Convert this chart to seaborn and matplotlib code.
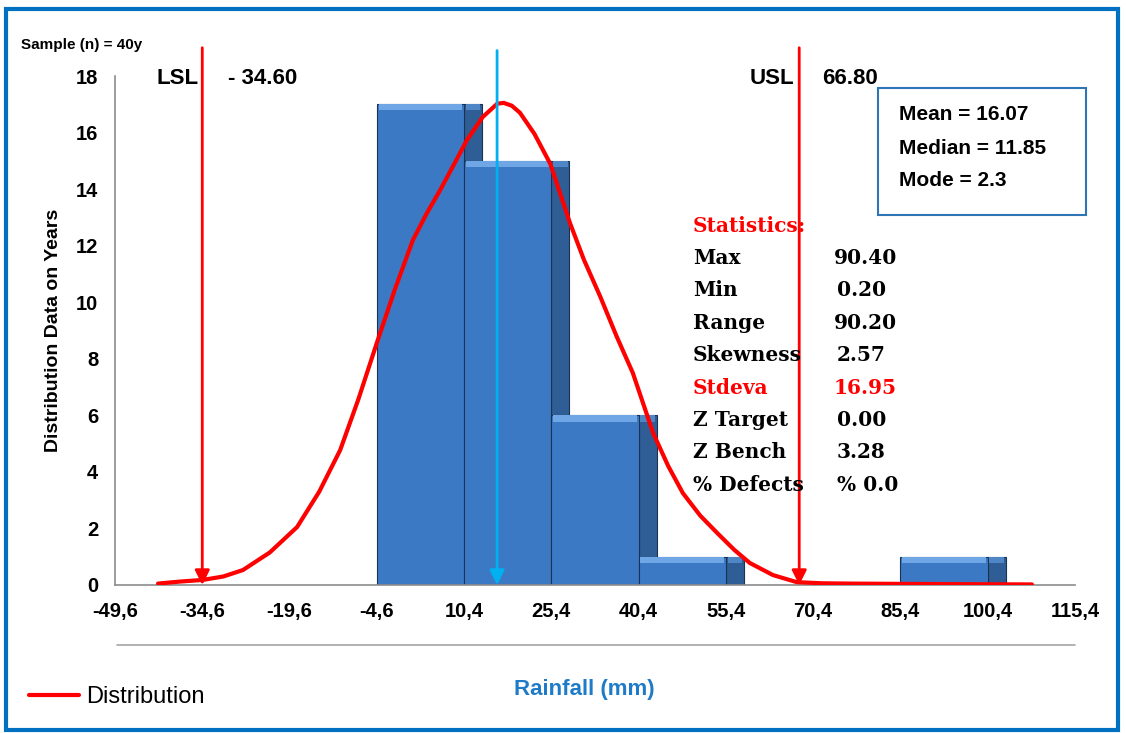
import numpy as np
import pandas as pd
import matplotlib
matplotlib.use("Agg")
import matplotlib.pyplot as plt
from matplotlib.lines import Line2D
from matplotlib.patches import Rectangle
import seaborn as sns

# Data
bin_edges = [-4.6, 10.4, 25.4, 40.4, 55.4, 70.4, 85.4, 100.4]
counts = [17, 15, 6, 1, 0, 0, 1]
xticks = [-49.6, -34.6, -19.6, -4.6, 10.4, 25.4, 40.4, 55.4, 70.4, 85.4, 100.4, 115.4]
yticks = [0, 2, 4, 6, 8, 10, 12, 14, 16, 18]

# distribution curve
curve_x = [-42.2, -38.5, -34.5, -31.0, -27.6, -23.0, -18.3, -14.5, -10.9, -7.8, -4.6, -1.5, 1.6,
           4.0, 6.3, 8.6, 10.9, 13.6, 16.1, 17.2, 18.6, 20.0, 22.5, 25.2, 28.6, 31.0, 33.8, 36.6,
           39.4, 42.9, 45.5, 48.0, 51.0, 53.9, 56.8, 59.5, 63.5, 67.6, 72.0, 76.7, 85.0, 93.9, 108.0]
curve_y = [0.05, 0.12, 0.18, 0.30, 0.53, 1.15, 2.05, 3.30, 4.77, 6.55, 8.56, 10.45, 12.20,
           13.15, 13.97, 14.85, 15.74, 16.55, 17.02, 17.05, 16.95, 16.70, 15.95, 14.90, 12.80, 11.50, 10.20, 8.80,
           7.50, 5.37, 4.20, 3.25, 2.45, 1.84, 1.25, 0.78, 0.35, 0.10, 0.06, 0.05, 0.04, 0.03, 0.02]

lsl, lsl_label = -34.6, "- 34.60"
usl, usl_label = 68.0, "66.80"
mean_val = 16.07

summary_lines = ["Mean = 16.07", "Median = 11.85", "Mode = 2.3"]
stat_names = ["Max", "Min", "Range", "Skewness", "Stdeva", "Z Target", "Z Bench", "% Defects"]
stat_values = ["90.40", "0.20", "90.20", "2.57", "16.95", "0.00", "3.28", "% 0.0"]

W, H = 1126, 733
def px(x, y):
    return x / W, 1 - y / H

sns.set_style("white")
plt.rcParams['font.family'] = ['Liberation Sans', 'DejaVu Sans']
plt.rcParams['text.color'] = 'black'
plt.rcParams['axes.labelcolor'] = 'black'
plt.rcParams['xtick.color'] = 'black'
plt.rcParams['ytick.color'] = 'black'

fig = plt.figure(figsize=(W / 100, H / 100), dpi=100)
ax = fig.add_axes([115 / W, 148 / H, 960 / W, 509 / H])

edges = np.array(bin_edges)
left = edges[:-1]
cnt = np.array(counts)
width = np.diff(edges)
depth = 3.1

# 3D side faces
ax.bar(left + width, cnt, width=depth, align='edge', color='#2F5E96',
       edgecolor='#1B3352', linewidth=0.8, zorder=1)
# front faces through seaborn
df = pd.DataFrame({'rain': left + width / 2, 'n': cnt})
sns.histplot(data=df, x='rain', weights='n', bins=bin_edges, color='#3B79C4',
             alpha=1, edgecolor='#1B3352', linewidth=0.8, ax=ax, zorder=2)
# light top bevel
top_h = np.where(cnt > 0, 0.22, 0)
ax.bar(left + 0.3, top_h, bottom=cnt - top_h, width=width - 0.6, align='edge',
       color='#6EA6E6', linewidth=0, zorder=3)
ax.bar(left + width + 0.3, top_h, bottom=cnt - top_h, width=depth - 0.6, align='edge',
       color='#4F86C6', linewidth=0, zorder=3)

# distribution curve
sns.lineplot(x=curve_x, y=curve_y, sort=False, color='red', linewidth=3,
             ax=ax, zorder=5, label='Distribution')

# LSL / USL / mean markers
arrow_red = dict(arrowstyle='-|>', color='red', lw=2, mutation_scale=22, shrinkA=0, shrinkB=0)
ax.annotate('', xy=(lsl, 0.0), xytext=(lsl, 19.0), arrowprops=arrow_red,
            annotation_clip=False, zorder=6)
ax.annotate('', xy=(usl, 0.0), xytext=(usl, 19.0), arrowprops=arrow_red,
            annotation_clip=False, zorder=6)
ax.annotate('', xy=(mean_val, 0.0), xytext=(mean_val, 18.9),
            arrowprops=dict(arrowstyle='-|>', color='#00B0F0', lw=2, mutation_scale=22,
                            shrinkA=0, shrinkB=0),
            annotation_clip=False, zorder=6)

ax.set_xlim(-49.6, 115.4)
ax.set_ylim(0, 18)
ax.set_xticks(xticks)
ax.set_xticklabels([f"{t:.1f}".replace('.', ',') for t in xticks])
ax.set_yticks(yticks)
ax.tick_params(axis='both', which='both', direction='out', length=6, width=1,
               color='#8C8C8C', labelcolor='black', labelsize=14.5, pad=6)
for lab in ax.get_xticklabels() + ax.get_yticklabels():
    lab.set_fontweight('bold')
for s in ['top', 'right']:
    ax.spines[s].set_visible(False)
for s in ['left', 'bottom']:
    ax.spines[s].set_color('#8C8C8C')
    ax.spines[s].set_linewidth(1.2)
ax.set_xlabel('')
ax.set_ylabel('Distribution Data on Years', fontsize=14, fontweight='bold', labelpad=10)

leg = ax.legend(loc='center left', bbox_to_anchor=px(8, 697), bbox_transform=fig.transFigure,
                frameon=False, fontsize=17, handlelength=2.1, handletextpad=0.3)

# secondary line under the tick labels
fig.add_artist(Line2D([117 / W, 1075 / W], [1 - 645 / H, 1 - 645 / H], color='#A6A6A6', lw=1.2))

fig.text(*px(584, 690), 'Rainfall (mm)', color='#1F7BC8', fontsize=16, fontweight='bold',
         ha='center', va='center')
fig.text(*px(21, 45), 'Sample (n) = 40y', fontsize=11, fontweight='bold', va='center')
fig.text(*px(157, 78), 'LSL', fontsize=16, fontweight='bold', va='center')
fig.text(*px(228, 78), lsl_label, fontsize=16, fontweight='bold', va='center')
fig.text(*px(750, 78), 'USL', fontsize=16, fontweight='bold', va='center')
fig.text(*px(822, 78), usl_label, fontsize=16, fontweight='bold', va='center')

# summary box
bx0, by0 = px(878, 215)
bx1, by1 = px(1086, 88)
fig.add_artist(Rectangle((bx0, by0), bx1 - bx0, by1 - by0, transform=fig.transFigure,
                         facecolor='white', edgecolor='#2E75B6', lw=1.5, zorder=10))
for i, line in enumerate(summary_lines):
    fig.text(*px(899, 115 + 33 * i), line, fontsize=15, fontweight='bold', va='center', zorder=11)

# statistics block
serif = ['DejaVu Serif']
fig.text(*px(693, 226), 'Statistics:', color='red', fontsize=14.5, fontweight='bold',
         va='center', family=serif)
for i, (name, val) in enumerate(zip(stat_names, stat_values)):
    c = 'red' if name == 'Stdeva' else 'black'
    y = 258 + 32.4 * i
    fig.text(*px(693, y), name, color=c, fontsize=14.5, fontweight='bold', va='center', family=serif)
    fig.text(*px(834 if len(val) == 5 and '%' not in val else 837, y), val, color=c,
             fontsize=14.5, fontweight='bold', va='center', family=serif)

# blue outer frame
fig.add_artist(Rectangle((6 / W, 1 - 730 / H), 1112 / W, 721 / H, transform=fig.transFigure,
                         fill=False, edgecolor='#0070C0', lw=3))

fig.savefig('out.png', dpi=100)
